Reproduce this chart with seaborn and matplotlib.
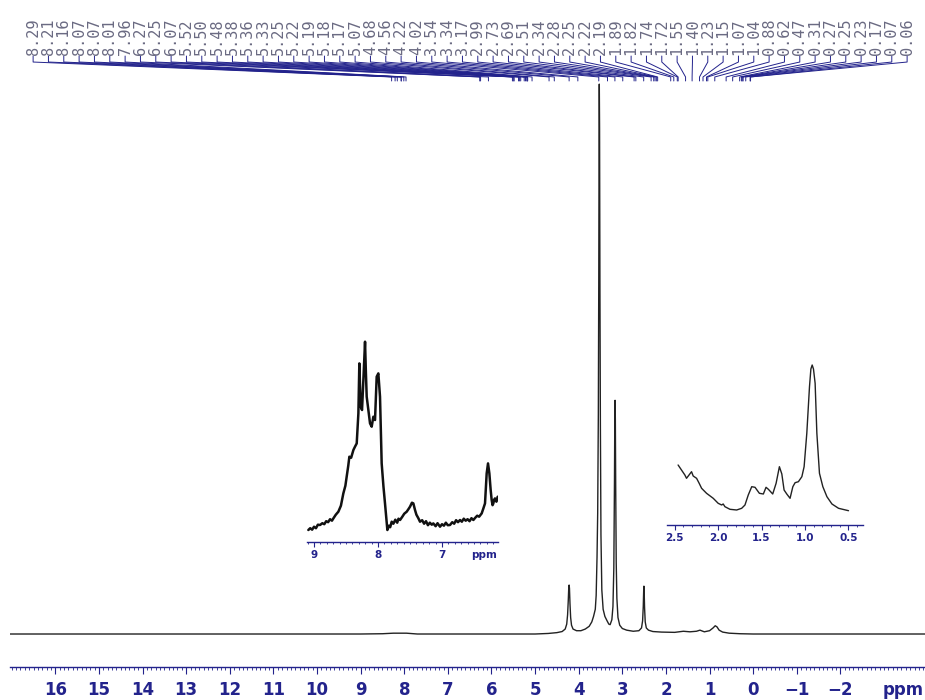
import numpy as np
import matplotlib
matplotlib.use('Agg')
import matplotlib.pyplot as plt
from matplotlib.ticker import MultipleLocator, FixedLocator
import seaborn as sns

sns.set_style('white')

# main 1H trace (ppm, intensity; tallest peak = 100)
main_ppm = [17.04, 9.0, 8.5, 8.25, 7.95, 7.7, 5.0, 4.70, 4.50, 4.38, 4.31,
            4.275, 4.255, 4.24, 4.228, 4.22, 4.212, 4.20, 4.185, 4.165, 4.13, 4.05, 3.95,
            3.85, 3.76, 3.70, 3.66, 3.62, 3.60, 3.58, 3.565, 3.55, 3.54, 3.533, 3.528,
            3.522, 3.513, 3.503, 3.49, 3.47, 3.44, 3.40, 3.35, 3.31, 3.28, 3.24, 3.215,
            3.195, 3.18, 3.172, 3.166, 3.16, 3.152, 3.14, 3.125, 3.10, 3.06, 3.00, 2.90,
            2.75, 2.62, 2.56, 2.535, 2.52, 2.51, 2.505, 2.50, 2.49, 2.475, 2.45, 2.40,
            2.30, 2.10, 1.80, 1.60, 1.45, 1.30, 1.22, 1.12, 1.00, 0.92, 0.87, 0.83, 0.78,
            0.70, 0.55, 0.30, 0.0, -3.94]
main_int = [0.0, 0.0, 0.05, 0.15, 0.15, 0.0, 0.0, 0.1, 0.25, 0.45, 0.9,
            1.8, 3.5, 6.0, 8.5, 8.9, 8.3, 5.5, 3.0, 1.6, 0.9, 0.6, 0.6,
            0.9, 1.4, 2.2, 3.2, 4.5, 7.0, 14, 22, 40, 65, 90, 100,
            92, 62, 38, 18, 8, 4.5, 3.2, 2.4, 1.8, 1.7, 2.6, 5,
            12, 28, 40, 42.5, 39, 27, 13, 6.5, 3.0, 1.6, 1.0, 0.7,
            0.5, 0.6, 1.1, 2.4, 5, 8.0, 8.7, 8.0, 4.8, 2.2, 1.1, 0.7,
            0.45, 0.35, 0.3, 0.5, 0.4, 0.5, 0.7, 0.4, 0.6, 1.1, 1.5, 1.3, 0.7,
            0.35, 0.15, 0.05, 0.0, 0.0]
main_ticks = [16, 15, 14, 13, 12, 11, 10, 9, 8, 7, 6, 5, 4, 3, 2, 1, 0, -1, -2]

# aromatic region inset (9.1 - 6.1 ppm), noisy trace
ins1_ppm = [9.089, 9.06, 9.03, 9.0, 8.97, 8.94, 8.906, 8.87, 8.84, 8.81, 8.78, 8.75,
            8.72, 8.698, 8.66, 8.620, 8.58, 8.542, 8.51, 8.490, 8.465, 8.448, 8.42,
            8.385, 8.36, 8.333, 8.307, 8.292, 8.271, 8.250, 8.229, 8.203, 8.19, 8.177,
            8.151, 8.125, 8.099, 8.073, 8.047, 8.021, 7.995, 7.969, 7.943, 7.915, 7.891,
            7.854, 7.83, 7.81, 7.786, 7.76, 7.73, 7.70, 7.68, 7.656, 7.62, 7.59, 7.552,
            7.52, 7.50, 7.47, 7.448, 7.422, 7.40, 7.37, 7.344, 7.31, 7.28, 7.25, 7.22,
            7.19, 7.16, 7.136, 7.10, 7.07, 7.031, 7.0, 6.97, 6.94, 6.91, 6.875, 6.84,
            6.81, 6.78, 6.75, 6.719, 6.69, 6.66, 6.63, 6.60, 6.57, 6.54, 6.51, 6.48,
            6.45, 6.42, 6.38, 6.355, 6.328, 6.302, 6.281, 6.26, 6.24, 6.224, 6.21,
            6.198, 6.185, 6.172, 6.15, 6.13]
ins1_int = [11.7, 13.5, 12.0, 15.0, 13.5, 17.0, 16.7, 18.5, 17.5, 20.5, 19.5, 22.5,
            21.0, 23.3, 27.0, 30, 36.0, 48.3, 56.0, 65, 76.0, 85, 84.0,
            91.7, 95.0, 98.3, 128.3, 178.3, 135, 131.7, 161.7, 200, 170.0, 145,
            131.7, 118.3, 115, 125, 121.7, 165, 168.3, 145, 78.3, 55.0, 38.3,
            11.7, 16.0, 14.5, 20, 18.0, 22.0, 19.0, 23.0, 21.7, 25.0, 28.0, 30,
            33.0, 35, 39.0, 38.3, 31.7, 27.0, 23.5, 20, 21.5, 18.0, 20.5, 16.5,
            19.0, 17.0, 18.3, 15.5, 18.5, 15, 17.5, 16.0, 19.0, 16.5, 16.7, 19.5,
            18.0, 21.5, 19.5, 21.7, 20.0, 23.0, 21.0, 22.5, 20.5, 23.5, 21.7, 24.0,
            26.0, 25.0, 28.3, 33.0, 38.3, 68.3, 78.3, 68.3, 52.0, 41.7, 36.5,
            38.3, 42.0, 43.3, 40.0, 45]
ins1_ticks = [9, 8, 7]

# aliphatic region inset (2.6 - 0.3 ppm)
ins2_ppm = [2.462, 2.423, 2.384, 2.365, 2.307, 2.288, 2.249, 2.219, 2.191, 2.134, 2.057,
            2.0, 1.960, 1.942, 1.922, 1.864, 1.787, 1.729, 1.691, 1.653, 1.613, 1.575,
            1.525, 1.479, 1.448, 1.421, 1.371, 1.332, 1.294, 1.266, 1.240, 1.209, 1.171,
            1.139, 1.113, 1.075, 1.035, 1.009, 0.978, 0.947, 0.931, 0.916, 0.901, 0.882,
            0.862, 0.832, 0.793, 0.746, 0.688, 0.612, 0.497]
ins2_int = [60, 55, 50, 46.7, 53.3, 49, 46.7, 41.7, 36.7, 31.7, 26.7,
            21.7, 20, 21, 18.3, 15.7, 15, 16.7, 20, 30, 38.3, 37.7,
            31.7, 31, 37.7, 35.7, 31, 41.7, 58.3, 51, 35, 31, 26.7,
            38.3, 42.3, 43.3, 48.3, 58.3, 91.7, 138.3, 156.0, 160.0, 156.0, 141.7,
            91.7, 51.7, 38.3, 28.3, 21, 16.7, 14.3]
ins2_ticks = [2.5, 2.0, 1.5, 1.0, 0.5]

# picked peak labels along the top
peak_labels = ['8.29', '8.21', '8.16', '8.07', '8.07', '8.01', '7.96', '6.27', '6.25',
               '6.07', '5.52', '5.50', '5.48', '5.38', '5.36', '5.33', '5.25', '5.22',
               '5.19', '5.18', '5.17', '5.07', '4.68', '4.56', '4.22', '4.02', '3.54',
               '3.34', '3.17', '2.99', '2.73', '2.69', '2.51', '2.34', '2.28', '2.25',
               '2.22', '2.19', '1.89', '1.82', '1.74', '1.72', '1.55', '1.40', '1.23',
               '1.15', '1.07', '1.04', '0.88', '0.62', '0.47', '0.31', '0.27', '0.25',
               '0.23', '0.17', '0.07', '0.06']

navy = '#23238c'
label_grey = '#6a6a82'

fig = plt.figure(figsize=(9.25, 7), dpi=100)
ax = fig.add_axes([10 / 925, 33 / 700, 915 / 925, 667 / 700])

sns.lineplot(x=main_ppm, y=main_int, ax=ax, color='#222222', linewidth=1.0,
             sort=False, estimator=None)
ax.set_xlim(17.04, -3.94)
ax.set_ylim(-6.0, 115.3)
for s in ['top', 'left', 'right']:
    ax.spines[s].set_visible(False)
ax.spines['bottom'].set_color(navy)
ax.spines['bottom'].set_linewidth(1.0)
ax.set_yticks([])
ax.xaxis.set_major_locator(FixedLocator(main_ticks))
ax.xaxis.set_minor_locator(MultipleLocator(0.1))
ax.set_xticklabels([str(t).replace('-', '\u2212') for t in main_ticks])
ax.tick_params(axis='x', which='major', direction='out', length=5, width=0.8,
               color=navy, labelcolor=navy, labelsize=12, pad=5, bottom=True)
ax.tick_params(axis='x', which='minor', direction='out', length=2.5, width=0.6,
               color=navy, bottom=True)
plt.setp(ax.get_xticklabels(), fontweight='bold')
ax.set_xlabel('')
ax.set_ylabel('')
ax.annotate('ppm', xy=(-3.90, 0), xycoords=ax.get_xaxis_transform(),
            xytext=(0, -10), textcoords='offset points', ha='right', va='top',
            fontsize=12, fontweight='bold', color=navy)

# peak label fan
trans = ax.get_xaxis_transform()
label_x = np.linspace(16.51, -3.53, len(peak_labels))
for lx, lab in zip(label_x, peak_labels):
    p = float(lab)
    ax.plot([lx, lx, p, p], [0.916, 0.907, 0.8846, 0.8786], transform=trans,
            color=navy, linewidth=0.7, clip_on=False)
    ax.text(lx, 0.918, lab, transform=trans, rotation=90, ha='center', va='bottom',
            fontsize=11, family='DejaVu Sans Mono', color=label_grey)


def style_inset(a, ticks, major_len):
    for s in ['top', 'left', 'right']:
        a.spines[s].set_visible(False)
    a.spines['bottom'].set_color(navy)
    a.spines['bottom'].set_linewidth(1.0)
    a.set_yticks([])
    a.set_facecolor('none')
    a.xaxis.set_major_locator(FixedLocator(ticks))
    a.xaxis.set_minor_locator(MultipleLocator(0.1))
    a.tick_params(axis='x', which='major', direction='out', length=major_len, width=0.8,
                  color=navy, labelcolor=navy, labelsize=7.5, pad=2.5, bottom=True)
    a.tick_params(axis='x', which='minor', direction='out', length=1.5, width=0.6,
                  color=navy, bottom=True)
    a.set_xlabel('')
    a.set_ylabel('')


ax1 = fig.add_axes([307 / 925, (700 - 541.7) / 700, 191 / 925, 206.7 / 700])
sns.lineplot(x=ins1_ppm, y=ins1_int, ax=ax1, color='#111111', linewidth=1.8,
             sort=False, estimator=None)
ax1.set_xlim(9.11, 6.125)
ax1.set_ylim(0, 206.7)
style_inset(ax1, ins1_ticks, 3.5)
ax1.set_xticklabels([str(t) for t in ins1_ticks])
plt.setp(ax1.get_xticklabels(), fontweight='bold')
ax1.annotate('ppm', xy=(6.34, 0), xycoords=ax1.get_xaxis_transform(),
             xytext=(0, -6), textcoords='offset points', ha='center', va='top',
             fontsize=7.5, fontweight='bold', color=navy)

ax2 = fig.add_axes([667 / 925, (700 - 525) / 700, 196 / 925, 170 / 700])
sns.lineplot(x=ins2_ppm, y=ins2_int, ax=ax2, color='#222222', linewidth=1.0,
             sort=False, estimator=None)
ax2.set_xlim(2.59, 0.33)
ax2.set_ylim(0, 170)
style_inset(ax2, ins2_ticks, 3.5)
ax2.set_xticklabels(['%.1f' % t for t in ins2_ticks])
plt.setp(ax2.get_xticklabels(), fontweight='bold')

fig.savefig('out.png', dpi=100)
